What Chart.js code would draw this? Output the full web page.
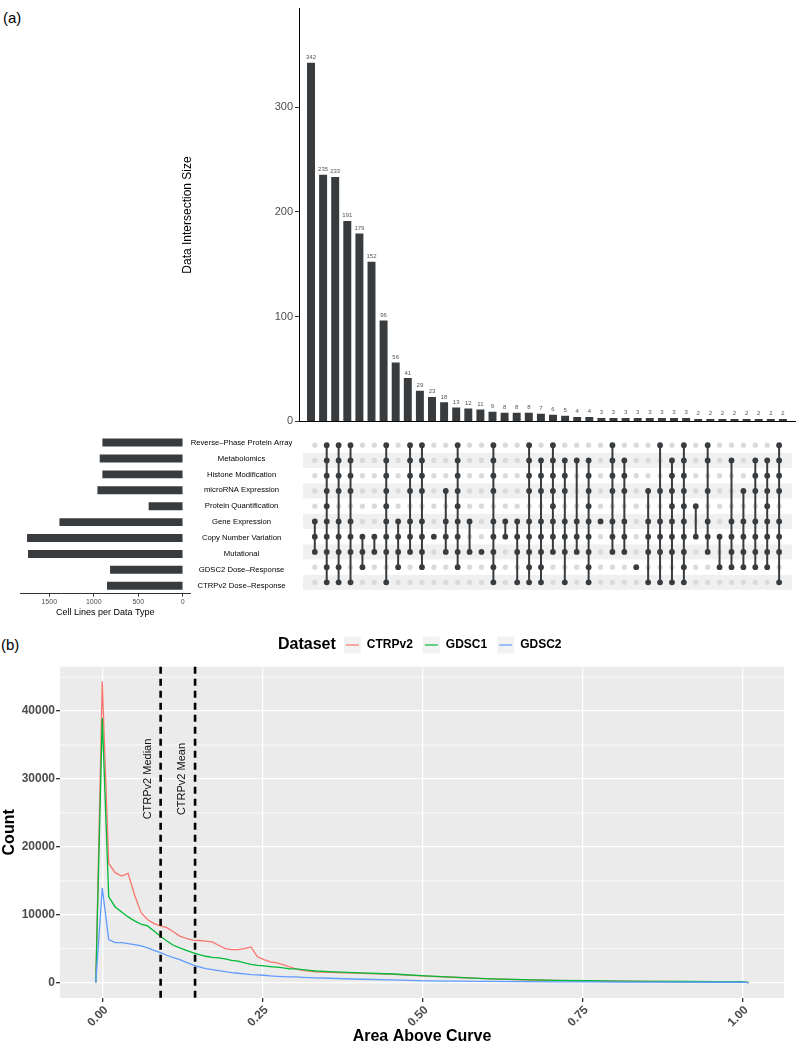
<!DOCTYPE html>
<html>
<head>
<meta charset="utf-8">
<title>Cell line data types and AAC distribution</title>
<script src="https://cdn.jsdelivr.net/npm/chart.js@4.4.1/dist/chart.umd.min.js"></script>
<style>
  body { margin: 0; background: #fff; }
  #page { position: relative; width: 796px; height: 1043px; overflow: hidden; font-family: 'Liberation Sans', Arial, sans-serif; }
  canvas { position: absolute; }
  .panel { position: absolute; font-size: 15px; color: #000; }
</style>
</head>
<body>
<div id="page">
  <div class="panel" style="left:3px; top:9px">(a)</div>
  <div class="panel" style="left:1px; top:636px">(b)</div>
  <canvas id="intersections" width="616" height="430" style="left:180px; top:0"></canvas>
  <canvas id="matrix" width="497" height="170" style="left:299px; top:430px"></canvas>
  <canvas id="setSizes" width="299" height="195" style="left:0; top:430px"></canvas>
  <canvas id="aac" width="796" height="416" style="left:0; top:630px"></canvas>
</div>
<script>
// (a) sets, top to bottom
const setNames = ['Reverse–Phase Protein Array', 'Metabolomics', 'Histone Modification', 'microRNA Expression',
    'Protein Quantification', 'Gene Expression', 'Copy Number Variation', 'Mutational',
    'GDSC2 Dose–Response', 'CTRPv2 Dose–Response'];
const setSizes = [899, 929, 899, 955, 379, 1382, 1746, 1735, 813, 847];
const setSizeTicks = [0, 500, 1000, 1500];

// (a) intersections, left to right
const intersectionSizes = [342, 235, 233, 191, 179, 152, 96, 56, 41, 29, 23, 18, 13, 12, 11, 9, 8, 8, 8, 7,
    6, 5, 4, 4, 3, 3, 3, 3, 3, 3, 3, 3, 2, 2, 2, 2, 2, 2, 2, 2];
// rows (index into setNames) that are filled in each column
const intersectionMembers = [
    [5, 6, 7], [0, 1, 2, 3, 4, 5, 6, 7, 8, 9], [0, 1, 2, 3, 5, 6, 7, 8, 9], [0, 1, 2, 3, 5, 6, 7, 9],
    [6, 7, 8], [6, 7], [0, 1, 2, 3, 4, 5, 6, 7, 9], [5, 6, 7, 8], [0, 1, 2, 3, 5, 6, 7], [0, 1, 2, 3, 5, 6, 7, 8],
    [6], [3, 5, 6, 7], [0, 1, 2, 3, 4, 5, 6, 7, 8], [5, 7], [7], [0, 1, 2, 3, 5, 6, 7, 8, 9],
    [5, 6], [5, 6, 7, 9], [0, 1, 2, 3, 5, 6, 7, 8, 9], [1, 2, 3, 5, 6, 7, 8, 9],
    [0, 1, 2, 3, 4, 5, 6, 7], [1, 2, 3, 5, 6, 7, 9], [1, 5, 6, 7], [1, 2, 3, 4, 5, 6, 7, 8, 9],
    [5], [0, 1, 2, 3, 5, 6, 7], [1, 2, 3, 5, 6, 7], [8], [3, 5, 6, 7, 9], [0, 3, 5, 6, 7, 9],
    [1, 2, 3, 4, 5, 6, 7, 9], [0, 1, 2, 3, 4, 5, 6, 7, 8, 9], [4, 6], [0, 1, 3, 5, 6, 7],
    [6, 8], [1, 5, 6, 7, 8], [3, 5, 6, 7, 8], [1, 2, 3, 5, 6, 7, 8], [1, 2, 3, 4, 5, 6, 7, 8], [0, 1, 2, 3, 5, 6, 7, 9]
];
const intersectionTicks = [0, 100, 200, 300];

// (b) frequency polygons of area above curve
const aacBins = [-0.0101, 0, 0.0101, 0.0202, 0.0303, 0.0404, 0.0505, 0.0606, 0.0707, 0.0808, 0.0909,
    0.1010, 0.1111, 0.1212, 0.1313, 0.1414, 0.1515, 0.1616, 0.1717, 0.1818, 0.1919, 0.2020, 0.2121,
    0.2222, 0.2323, 0.2424, 0.2525, 0.2626, 0.2727, 0.2828, 0.2929, 0.3030, 0.3131, 0.3232, 0.3333,
    0.3535, 0.4040, 0.4545, 0.5051, 0.5556, 0.6061, 0.6566, 0.7071, 0.7576, 0.8081, 0.8586, 0.9091,
    0.9596, 1.0000, 1.0101];
const ctrpCounts = [0, 44400, 17550, 16200, 15700, 16100, 12900, 10300, 9300, 8700, 8350,
    8100, 7500, 6850, 6500, 6250, 6200, 6100, 6000, 5500, 5000, 4870, 4870,
    5000, 5250, 3800, 3400, 3050, 2900, 2650, 2300, 2000, 1800, 1700, 1600,
    1500, 1350, 1200, 950, 750, 560, 420, 320, 250, 200, 160, 130, 110, 100, 0];
const gdsc1Counts = [0, 39000, 12630, 11150, 10410, 9680, 9090, 8600, 8350, 7610, 6830,
    6140, 5500, 5110, 4760, 4420, 4130, 3880, 3730, 3640, 3490, 3290, 3150,
    2890, 2700, 2550, 2460, 2360, 2270, 2170, 2010, 2010, 1920, 1810, 1710,
    1620, 1420, 1270, 1000, 780, 560, 430, 330, 270, 220, 190, 160, 140, 150, 0];
const gdsc2Counts = [0, 13950, 6340, 5900, 5900, 5750, 5600, 5400, 5110, 4760, 4420,
    4030, 3690, 3390, 2990, 2600, 2300, 2060, 1920, 1770, 1620, 1470, 1380,
    1280, 1180, 1130, 1080, 980, 930, 880, 830, 830, 780, 730, 700,
    640, 490, 390, 260, 210, 170, 140, 120, 100, 80, 70, 60, 50, 60, 0];
const refLabels = ['CTRPv2 Median', 'CTRPv2 Mean'];
const refValues = [0.0912, 0.145];
const refLabelCount = 30000;
const aacTicks = [0, 0.25, 0.5, 0.75, 1];
const countTicks = [0, 10000, 20000, 30000, 40000];
const countMinorTicks = [5000, 15000, 25000, 35000, 45000];

const FONT = "'Liberation Sans', Arial, Helvetica, sans-serif";
Chart.defaults.font.family = FONT;
Chart.defaults.animation = false;
Chart.defaults.plugins.legend.display = false;
Chart.defaults.plugins.tooltip.enabled = false;

const barColor = '#393c3f';
const colStep = 12.1;   // px between matrix columns
const rowStep = 16;     // px between matrix rows

function fixedTicks(values) {
    return function (scale) {
        scale.ticks = values.map(v => ({ value: v }));
    };
}
const plainNumber = v => String(v);

// ---------- intersection size bars ----------
const barLabels = {
    id: 'barLabels',
    afterDatasetsDraw(chart) {
        const ctx = chart.ctx;
        ctx.save();
        ctx.fillStyle = '#555';
        ctx.font = '6px ' + FONT;
        ctx.textAlign = 'center';
        ctx.textBaseline = 'bottom';
        chart.getDatasetMeta(0).data.forEach((bar, i) => {
            ctx.fillText(String(intersectionSizes[i]), bar.x, bar.y - 2.5);
        });
        ctx.restore();
    }
};

new Chart(document.getElementById('intersections'), {
    type: 'bar',
    data: {
        datasets: [{
            data: intersectionSizes.map((v, i) => ({ x: i, y: v })),
            backgroundColor: barColor,
            barThickness: 7.3
        }]
    },
    options: {
        responsive: false,
        layout: { padding: { top: 0, right: 0, bottom: 4.5, left: 0 } },
        scales: {
            x: {
                type: 'linear', offset: false,
                min: -12 / colStep, max: 485 / colStep,
                ticks: { display: false },
                grid: { display: false },
                border: { display: true, color: '#000', width: 1 },
                afterFit: s => { s.height = 0; }
            },
            y: {
                min: 0, max: 394,
                afterBuildTicks: fixedTicks(intersectionTicks),
                ticks: { color: '#4d4d4d', font: { size: 11 }, padding: 2, callback: plainNumber },
                grid: { drawOnChartArea: false, tickLength: 4, tickColor: '#333' },
                border: { display: true, color: '#000', width: 1 },
                title: { display: true, text: 'Data Intersection Size', color: '#000', font: { size: 12 }, padding: 0 },
                afterFit: s => { s.width = 119; }
            }
        }
    },
    plugins: [barLabels]
});

// ---------- dot matrix ----------
const gridDots = [], memberDots = [], links = [];
intersectionMembers.forEach((rows, col) => {
    setNames.forEach((name, r) => {
        (rows.includes(r) ? memberDots : gridDots).push({ x: col, y: r });
    });
    if (rows.length > 1) {
        links.push({ x: col, y: Math.min(...rows) }, { x: col, y: Math.max(...rows) }, { x: col, y: null });
    }
});

const stripes = {
    id: 'stripes',
    beforeDatasetsDraw(chart) {
        const { ctx, chartArea, scales: { y } } = chart;
        ctx.save();
        ctx.fillStyle = '#f0f0f0';
        setNames.forEach((n, r) => {
            if (r % 2 === 1) {
                const py = y.getPixelForValue(r);
                ctx.fillRect(chartArea.left, py - 7.5, chartArea.right - chartArea.left, 15);
            }
        });
        ctx.restore();
    }
};

new Chart(document.getElementById('matrix'), {
    type: 'scatter',
    data: {
        datasets: [
            { data: gridDots, backgroundColor: '#dadada', pointRadius: 2.6, pointBorderWidth: 0, order: 3, clip: false },
            { data: links, showLine: true, spanGaps: false, borderColor: barColor, borderWidth: 2, pointRadius: 0, order: 2, clip: false },
            { data: memberDots, backgroundColor: barColor, pointRadius: 2.9, pointBorderWidth: 0, order: 1, clip: false }
        ]
    },
    options: {
        responsive: false,
        layout: { padding: 0 },
        scales: {
            x: { type: 'linear', display: false, min: -12 / colStep, max: 485 / colStep },
            y: { type: 'linear', display: false, reverse: true, min: -11.7 / rowStep, max: (170 - 11.7) / rowStep }
        }
    },
    plugins: [stripes]
});

// ---------- set sizes ----------
new Chart(document.getElementById('setSizes'), {
    type: 'bar',
    data: {
        labels: setNames,
        datasets: [{ data: setSizes, backgroundColor: barColor, barThickness: 7.3 }]
    },
    options: {
        indexAxis: 'y',
        responsive: false,
        layout: { padding: { left: 20, top: 3.7, right: 0, bottom: 7.3 } },
        scales: {
            x: {
                min: -90, max: 1829, reverse: true,
                afterBuildTicks: fixedTicks(setSizeTicks),
                ticks: { color: '#4d4d4d', font: { size: 7 }, padding: 1, maxRotation: 0, callback: plainNumber },
                grid: { drawOnChartArea: false, tickLength: 3, tickColor: '#333' },
                border: { display: true, color: '#333' },
                title: { display: true, text: 'Cell Lines per Data Type', color: '#000', font: { size: 9 }, padding: 0 },
                afterFit: s => { s.height = 24; }
            },
            y: {
                position: 'right',
                ticks: { crossAlign: 'center', color: '#000', font: { size: 7.7 }, padding: 0 },
                grid: { display: false, drawTicks: false },
                border: { display: false },
                afterFit: s => { s.width = 108.3; }
            }
        }
    }
});

// ---------- (b) AAC distribution ----------
const panelBackground = {
    id: 'panelBackground',
    beforeDraw(chart) {
        const { ctx, chartArea: a, scales: { y } } = chart;
        ctx.save();
        ctx.fillStyle = '#ebebeb';
        ctx.fillRect(a.left, a.top, a.right - a.left, a.bottom - a.top);
        ctx.strokeStyle = '#fff';
        ctx.lineWidth = 0.7;
        countMinorTicks.forEach(v => {
            const py = y.getPixelForValue(v);
            ctx.beginPath();
            ctx.moveTo(a.left, py);
            ctx.lineTo(a.right, py);
            ctx.stroke();
        });
        ctx.restore();
    }
};

const refLines = {
    id: 'refLines',
    afterDatasetsDraw(chart) {
        const { ctx, chartArea: a, scales: { x, y } } = chart;
        ctx.save();
        refValues.forEach((v, i) => {
            const px = x.getPixelForValue(v);
            ctx.strokeStyle = '#000';
            ctx.lineWidth = 2.6;
            ctx.setLineDash([7, 5]);
            ctx.beginPath();
            ctx.moveTo(px, a.top);
            ctx.lineTo(px, a.bottom);
            ctx.stroke();
            ctx.save();
            ctx.translate(x.getPixelForValue(v - 0.02), y.getPixelForValue(refLabelCount));
            ctx.rotate(-Math.PI / 2);
            ctx.fillStyle = '#111';
            ctx.font = '11px ' + FONT;
            ctx.textAlign = 'center';
            ctx.textBaseline = 'middle';
            ctx.fillText(refLabels[i], 0, 0);
            ctx.restore();
        });
        ctx.restore();
    }
};

const datasetLegend = {
    id: 'datasetLegend',
    afterDraw(chart) {
        const ctx = chart.ctx;
        const cy = 15;
        ctx.save();
        ctx.textBaseline = 'middle';
        ctx.textAlign = 'left';
        ctx.fillStyle = '#000';
        ctx.font = 'bold 16px ' + FONT;
        let x = 278;
        ctx.fillText('Dataset', x, cy);
        x += ctx.measureText('Dataset').width + 8;
        ctx.font = 'bold 12px ' + FONT;
        chart.data.datasets.forEach(ds => {
            ctx.fillStyle = '#f2f2f2';
            ctx.fillRect(x, cy - 8.5, 17, 17);
            ctx.strokeStyle = ds.borderColor;
            ctx.lineWidth = 1.2;
            ctx.beginPath();
            ctx.moveTo(x + 2, cy);
            ctx.lineTo(x + 15, cy);
            ctx.stroke();
            x += 23;
            ctx.fillStyle = '#000';
            ctx.fillText(ds.label, x, cy);
            x += ctx.measureText(ds.label).width + 10;
        });
        ctx.restore();
    }
};

const toPoints = counts => aacBins.map((b, i) => ({ x: b, y: counts[i] }));

new Chart(document.getElementById('aac'), {
    type: 'line',
    data: {
        datasets: [
            { label: 'CTRPv2', data: toPoints(ctrpCounts), borderColor: '#F8766D', order: 3 },
            { label: 'GDSC1', data: toPoints(gdsc1Counts), borderColor: '#00BA38', order: 2 },
            { label: 'GDSC2', data: toPoints(gdsc2Counts), borderColor: '#619CFF', order: 1 }
        ]
    },
    options: {
        responsive: false,
        elements: { point: { radius: 0 }, line: { borderWidth: 1.3, tension: 0 } },
        layout: { padding: { top: 36.7, right: 12, left: 0, bottom: 0 } },
        scales: {
            x: {
                type: 'linear', min: -0.066, max: 1.065,
                afterBuildTicks: fixedTicks(aacTicks),
                ticks: {
                    color: '#4d4d4d', font: { size: 12, weight: 'bold' },
                    minRotation: 45, maxRotation: 45, padding: 1, labelOffset: 4,
                    callback: v => Number(v).toFixed(2)
                },
                grid: { color: '#fff', lineWidth: 1.3, tickColor: '#333', tickLength: 4 },
                border: { display: false },
                title: { display: true, text: 'Area Above Curve', color: '#000', font: { size: 16, weight: 'bold' }, padding: 0 },
                afterFit: s => { s.height = 48; }
            },
            y: {
                min: -2270, max: 46550,
                afterBuildTicks: fixedTicks(countTicks),
                ticks: { color: '#4d4d4d', font: { size: 12, weight: 'bold' }, padding: 1, callback: plainNumber },
                grid: { color: '#fff', lineWidth: 1.3, tickColor: '#333', tickLength: 4 },
                border: { display: false },
                title: { display: true, text: 'Count', color: '#000', font: { size: 16, weight: 'bold' }, padding: 0 },
                afterFit: s => { s.width = 60; }
            }
        }
    },
    plugins: [panelBackground, refLines, datasetLegend]
});
</script>
</body>
</html>
